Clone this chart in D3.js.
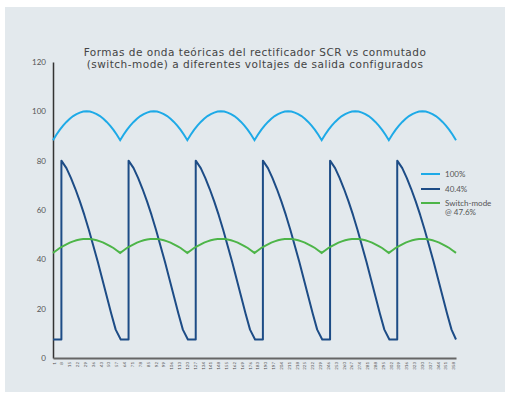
<!DOCTYPE html>
<html>

<head>
  <meta charset="utf-8">
  <title>Rectificador SCR vs conmutado</title>
  <script src="https://d3js.org/d3.v7.min.js"></script>
  <style>
    body { margin: 0; background: #fff; }
    text { font-family: Lato, "Open Sans", sans-serif; }
  </style>
</head>

<body>
  <script>
    // datos (cada 3 puntos del eje x)
    var full100 = [
      88.3, 90.5, 92.5, 94.2, 95.7, 97.0, 98.1, 98.9, 99.5, 99.9, 100, 99.9, 99.5, 98.9, 98.1, 97.0, 95.7, 94.2, 92.5, 90.5,
      88.3, 90.5, 92.5, 94.2, 95.7, 97.0, 98.1, 98.9, 99.5, 99.9, 100, 99.9, 99.5, 98.9, 98.1, 97.0, 95.7, 94.2, 92.5, 90.5,
      88.3, 90.5, 92.5, 94.2, 95.7, 97.0, 98.1, 98.9, 99.5, 99.9, 100, 99.9, 99.5, 98.9, 98.1, 97.0, 95.7, 94.2, 92.5, 90.5,
      88.3, 90.5, 92.5, 94.2, 95.7, 97.0, 98.1, 98.9, 99.5, 99.9, 100, 99.9, 99.5, 98.9, 98.1, 97.0, 95.7, 94.2, 92.5, 90.5,
      88.3, 90.5, 92.5, 94.2, 95.7, 97.0, 98.1, 98.9, 99.5, 99.9, 100, 99.9, 99.5, 98.9, 98.1, 97.0, 95.7, 94.2, 92.5, 90.5,
      88.3, 90.5, 92.5, 94.2, 95.7, 97.0, 98.1, 98.9, 99.5, 99.9, 100, 99.9, 99.5, 98.9, 98.1, 97.0, 95.7, 94.2, 92.5, 90.5,
      88.3
    ];
    var switch476 = [
      42.6, 43.6, 44.6, 45.4, 46.1, 46.8, 47.3, 47.7, 48.0, 48.2, 48.2, 48.2, 48.0, 47.7, 47.3, 46.8, 46.1, 45.4, 44.6, 43.6,
      42.6, 43.6, 44.6, 45.4, 46.1, 46.8, 47.3, 47.7, 48.0, 48.2, 48.2, 48.2, 48.0, 47.7, 47.3, 46.8, 46.1, 45.4, 44.6, 43.6,
      42.6, 43.6, 44.6, 45.4, 46.1, 46.8, 47.3, 47.7, 48.0, 48.2, 48.2, 48.2, 48.0, 47.7, 47.3, 46.8, 46.1, 45.4, 44.6, 43.6,
      42.6, 43.6, 44.6, 45.4, 46.1, 46.8, 47.3, 47.7, 48.0, 48.2, 48.2, 48.2, 48.0, 47.7, 47.3, 46.8, 46.1, 45.4, 44.6, 43.6,
      42.6, 43.6, 44.6, 45.4, 46.1, 46.8, 47.3, 47.7, 48.0, 48.2, 48.2, 48.2, 48.0, 47.7, 47.3, 46.8, 46.1, 45.4, 44.6, 43.6,
      42.6, 43.6, 44.6, 45.4, 46.1, 46.8, 47.3, 47.7, 48.0, 48.2, 48.2, 48.2, 48.0, 47.7, 47.3, 46.8, 46.1, 45.4, 44.6, 43.6,
      42.6
    ];
    // SCR 40.4%: puntos [x, valor] con los saltos verticales
    var scr404 = [
      [0, 7.5], [7.5, 7.5], [7.5, 80], [12, 77], [16, 73], [20, 68.5], [24, 63.5], [28, 58], [32, 52], [36, 45.5], [40, 39], [44, 32], [48, 25], [52, 18], [56, 11.5], [60.5, 7.5],
      [67.5, 7.5], [67.5, 80], [72, 77], [76, 73], [80, 68.5], [84, 63.5], [88, 58], [92, 52], [96, 45.5], [100, 39], [104, 32], [108, 25], [112, 18], [116, 11.5], [120.5, 7.5],
      [127.5, 7.5], [127.5, 80], [132, 77], [136, 73], [140, 68.5], [144, 63.5], [148, 58], [152, 52], [156, 45.5], [160, 39], [164, 32], [168, 25], [172, 18], [176, 11.5], [180.5, 7.5],
      [187.5, 7.5], [187.5, 80], [192, 77], [196, 73], [200, 68.5], [204, 63.5], [208, 58], [212, 52], [216, 45.5], [220, 39], [224, 32], [228, 25], [232, 18], [236, 11.5], [240.5, 7.5],
      [247.5, 7.5], [247.5, 80], [252, 77], [256, 73], [260, 68.5], [264, 63.5], [268, 58], [272, 52], [276, 45.5], [280, 39], [284, 32], [288, 25], [292, 18], [296, 11.5], [300.5, 7.5],
      [307.5, 7.5], [307.5, 80], [312, 77], [316, 73], [320, 68.5], [324, 63.5], [328, 58], [332, 52], [336, 45.5], [340, 39], [344, 32], [348, 25], [352, 18], [356, 11.5], [360, 7.5]
    ];
    var xTickLabels = [1, 8, 15, 22, 29, 36, 43, 50, 57, 64, 71, 78, 85, 92, 99, 106, 113, 120, 127, 134, 141, 148, 155,
      162, 169, 176, 183, 190, 197, 204, 211, 218, 225, 232, 239, 246, 253, 260, 267, 274, 281, 288, 295, 302, 309, 316,
      323, 330, 337, 344, 351, 358];
    var yTicks = [0, 20, 40, 60, 80, 100, 120];
    var legendNames = ["100%", "40.4%", "Switch-mode|@ 47.6%"];
    var colors = ["#1eaae7", "#1d4c86", "#4db548"];

    var width = 508, height = 394;
    var svg = d3.select("body").append("svg").attr("width", width).attr("height", height);

    svg.append("rect").attr("x", 5).attr("y", 7).attr("width", 500).attr("height", 385).attr("fill", "#e3e9ed");

    var xScale = d3.scaleLinear().domain([0, 360]).range([53, 456]);
    var yScale = d3.scaleLinear().domain([0, 120]).range([358, 62]);

    var sampleX = d3.range(0, 361, 3);

    // titulo
    var title = svg.append("text").attr("text-anchor", "middle")
      .attr("font-size", 10.5).attr("fill", "#444").attr("letter-spacing", 0.5)
      .style("font-family", "'DejaVu Sans', sans-serif");
    title.append("tspan").attr("x", 255).attr("y", 55.5).text("Formas de onda teóricas del rectificador SCR vs conmutado");
    title.append("tspan").attr("x", 255).attr("y", 68).text("(switch-mode) a diferentes voltajes de salida configurados");

    // eje y
    var yAxis = svg.append("g")
      .attr("transform", "translate(53,0)")
      .call(d3.axisLeft(yScale).tickValues(yTicks).tickSize(0).tickPadding(7));
    yAxis.select(".domain").attr("stroke", "#333").attr("stroke-width", 1.5);
    yAxis.selectAll("text").attr("font-size", 8).attr("fill", "#555").style("font-family", "Lato, sans-serif");

    // eje x
    var xAxis = svg.append("g")
      .attr("transform", "translate(0,358)")
      .call(d3.axisBottom(xScale).tickValues(xTickLabels.map(function (d) { return d - 0.5; }))
        .tickFormat(function (d) { return d + 0.5; }).tickSize(0).tickPadding(3));
    xAxis.select(".domain").attr("stroke", "#666").attr("stroke-width", 2);
    xAxis.selectAll("text")
      .attr("font-size", 4.5).attr("fill", "#555")
      .attr("transform", "rotate(-90)")
      .attr("text-anchor", "end")
      .attr("x", -4).attr("y", 0).attr("dy", "0.35em");

    var line = d3.line()
      .x(function (d) { return xScale(d[0]); })
      .y(function (d) { return yScale(d[1]); });

    svg.append("path")
      .datum(sampleX.map(function (x, i) { return [x, full100[i]]; }))
      .attr("fill", "none").attr("stroke", colors[0]).attr("stroke-width", 2).attr("d", line);

    svg.append("path")
      .datum(scr404)
      .attr("fill", "none").attr("stroke", colors[1]).attr("stroke-width", 2).attr("stroke-linejoin", "round").attr("d", line);

    svg.append("path")
      .datum(sampleX.map(function (x, i) { return [x, switch476[i]]; }))
      .attr("fill", "none").attr("stroke", colors[2]).attr("stroke-width", 2).attr("d", line);

    // leyenda
    var legend = svg.append("g").attr("transform", "translate(421,174)");
    var rowY = [0, 15, 29];
    legendNames.forEach(function (name, i) {
      legend.append("line").attr("x1", 0).attr("x2", 19).attr("y1", rowY[i]).attr("y2", rowY[i])
        .attr("stroke", colors[i]).attr("stroke-width", 2);
      var t = legend.append("text").attr("x", 24).attr("y", rowY[i]).attr("dy", "0.35em")
        .attr("font-size", 8).attr("fill", "#555");
      name.split("|").forEach(function (part, j) {
        t.append("tspan").attr("x", 24).attr("dy", j === 0 ? "0.35em" : "1.2em").text(part);
      });
    });
  </script>
</body>

</html>
